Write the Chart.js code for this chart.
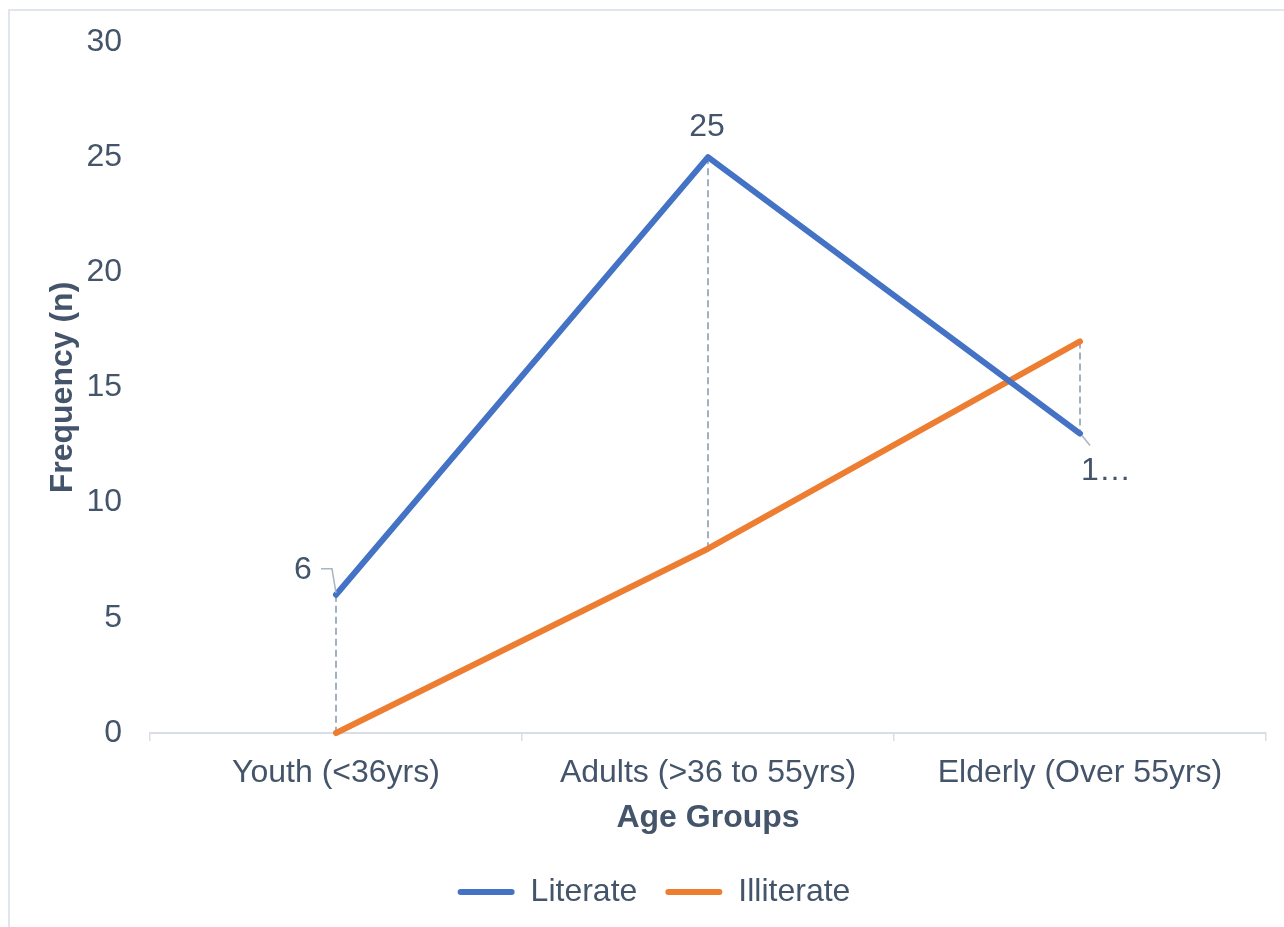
<!DOCTYPE html>
<html lang="en">
<head>
<meta charset="utf-8">
<title>Literacy by Age Group</title>
<script src="https://cdn.jsdelivr.net/npm/chart.js@4.4.1/dist/chart.umd.min.js"></script>
<style>
    html, body { margin: 0; padding: 0; background: #fff; overflow: hidden; }
    #frame { position: absolute; left: 8px; top: 9px; width: 1300px; height: 940px; border: 2px solid #e1e6ee; }
    #wrap { position: absolute; left: 0; top: 0; width: 1284px; height: 927px; }
</style>
</head>
<body>
<div id="frame"></div>
<div id="wrap"><canvas id="ageChart" width="1284" height="927"></canvas></div>
<script>
    const ageGroups = ['Youth (<36yrs)', 'Adults (>36 to 55yrs)', 'Elderly (Over 55yrs)'];
    const literate = [6, 25, 13];
    const illiterate = [0, 8, 17];
    const yMin = 0, yMax = 30, yStep = 5;

    const textColor = '#44546a';
    const fontFamily = '"Liberation Sans", Arial, sans-serif';
    const fontSize = 32;

    // where each Literate label sits relative to its point, plus its leader line
    const labelPlacement = [
        {dx: -33, dy: -25, leader: [[-15, -26], [-4, -26], [0, -2]]},
        {dx: -1, dy: -30, leader: null},
        {dx: 26, dy: 38, leader: [[2, 2], [10, 12]], maxChars: 1}
    ];

    // dashed drop lines between the two series at each category
    const dropLines = {
        id: 'dropLines',
        beforeDatasetsDraw(chart) {
            const ctx = chart.ctx;
            const a = chart.getDatasetMeta(0).data;
            const b = chart.getDatasetMeta(1).data;
            ctx.save();
            ctx.strokeStyle = '#8497b0';
            ctx.lineWidth = 1.5;
            ctx.setLineDash([7, 4]);
            a.forEach((pt, i) => {
                ctx.beginPath();
                ctx.moveTo(pt.x, Math.min(pt.y, b[i].y));
                ctx.lineTo(pt.x, Math.max(pt.y, b[i].y));
                ctx.stroke();
            });
            ctx.restore();
        }
    };

    const valueLabels = {
        id: 'valueLabels',
        afterDatasetsDraw(chart) {
            const ctx = chart.ctx;
            const pts = chart.getDatasetMeta(0).data;
            ctx.save();
            ctx.font = fontSize + 'px ' + fontFamily;
            ctx.fillStyle = textColor;
            ctx.textAlign = 'center';
            ctx.textBaseline = 'middle';
            pts.forEach((pt, i) => {
                const p = labelPlacement[i];
                if (p.leader) {
                    ctx.strokeStyle = '#a9b4c4';
                    ctx.lineWidth = 1.5;
                    ctx.beginPath();
                    p.leader.forEach(([lx, ly], k) => {
                        if (k === 0) ctx.moveTo(pt.x + lx, pt.y + ly);
                        else ctx.lineTo(pt.x + lx, pt.y + ly);
                    });
                    ctx.stroke();
                }
                let txt = String(literate[i]);
                if (p.maxChars && txt.length > p.maxChars) txt = txt.slice(0, p.maxChars) + '\u2026';
                ctx.fillText(txt, pt.x + p.dx, pt.y + p.dy);
            });
            ctx.restore();
        }
    };

    Chart.defaults.font.family = fontFamily;
    Chart.defaults.font.size = fontSize;
    Chart.defaults.color = textColor;

    new Chart(document.getElementById('ageChart'), {
        type: 'line',
        data: {
            labels: ageGroups,
            datasets: [
                {
                    label: 'Literate',
                    data: literate,
                    borderColor: '#4472c4',
                    backgroundColor: '#4472c4',
                    borderWidth: 6,
                    borderCapStyle: 'round',
                    borderJoinStyle: 'round',
                    pointRadius: 0,
                    clip: false
                },
                {
                    label: 'Illiterate',
                    data: illiterate,
                    borderColor: '#ed7d31',
                    backgroundColor: '#ed7d31',
                    borderWidth: 6,
                    borderCapStyle: 'round',
                    borderJoinStyle: 'round',
                    pointRadius: 0,
                    clip: false
                }
            ]
        },
        options: {
            responsive: false,
            animation: false,
            layout: {padding: {left: 42, right: 18, top: 42, bottom: 9}},
            scales: {
                x: {
                    offset: true,
                    grid: {offset: true, drawOnChartArea: false, tickLength: 8, color: '#d9dee6', lineWidth: 1.5},
                    border: {display: true, color: '#d9dee6', width: 2},
                    ticks: {padding: 12.8, maxRotation: 0, autoSkip: false},
                    title: {display: true, text: 'Age Groups', font: {weight: 'bold'}, padding: {top: 4, bottom: 10.8}},
                    afterFit(s) { s.height = 115; }
                },
                y: {
                    min: yMin,
                    max: yMax,
                    // hidden tick marks just keep the labels clear of the plot
                    grid: {display: false, drawTicks: true, tickLength: 26},
                    border: {display: false},
                    ticks: {stepSize: yStep, padding: 2},
                    title: {display: true, text: 'Frequency (n)', font: {weight: 'bold'}, padding: {top: 2, bottom: 0}},
                    afterFit(s) { s.width = 108; }
                }
            },
            plugins: {
                tooltip: {enabled: false},
                legend: {
                    position: 'bottom',
                    labels: {
                        boxWidth: 57,
                        boxHeight: 6,
                        padding: 28,
                        useBorderRadius: true,
                        borderRadius: 3,
                        generateLabels(chart) {
                            return Chart.defaults.plugins.legend.labels.generateLabels(chart).map(item => {
                                item.fillStyle = item.strokeStyle;
                                item.lineWidth = 0;
                                return item;
                            });
                        }
                    }
                }
            }
        },
        plugins: [dropLines, valueLabels]
    });
</script>
</body>
</html>
